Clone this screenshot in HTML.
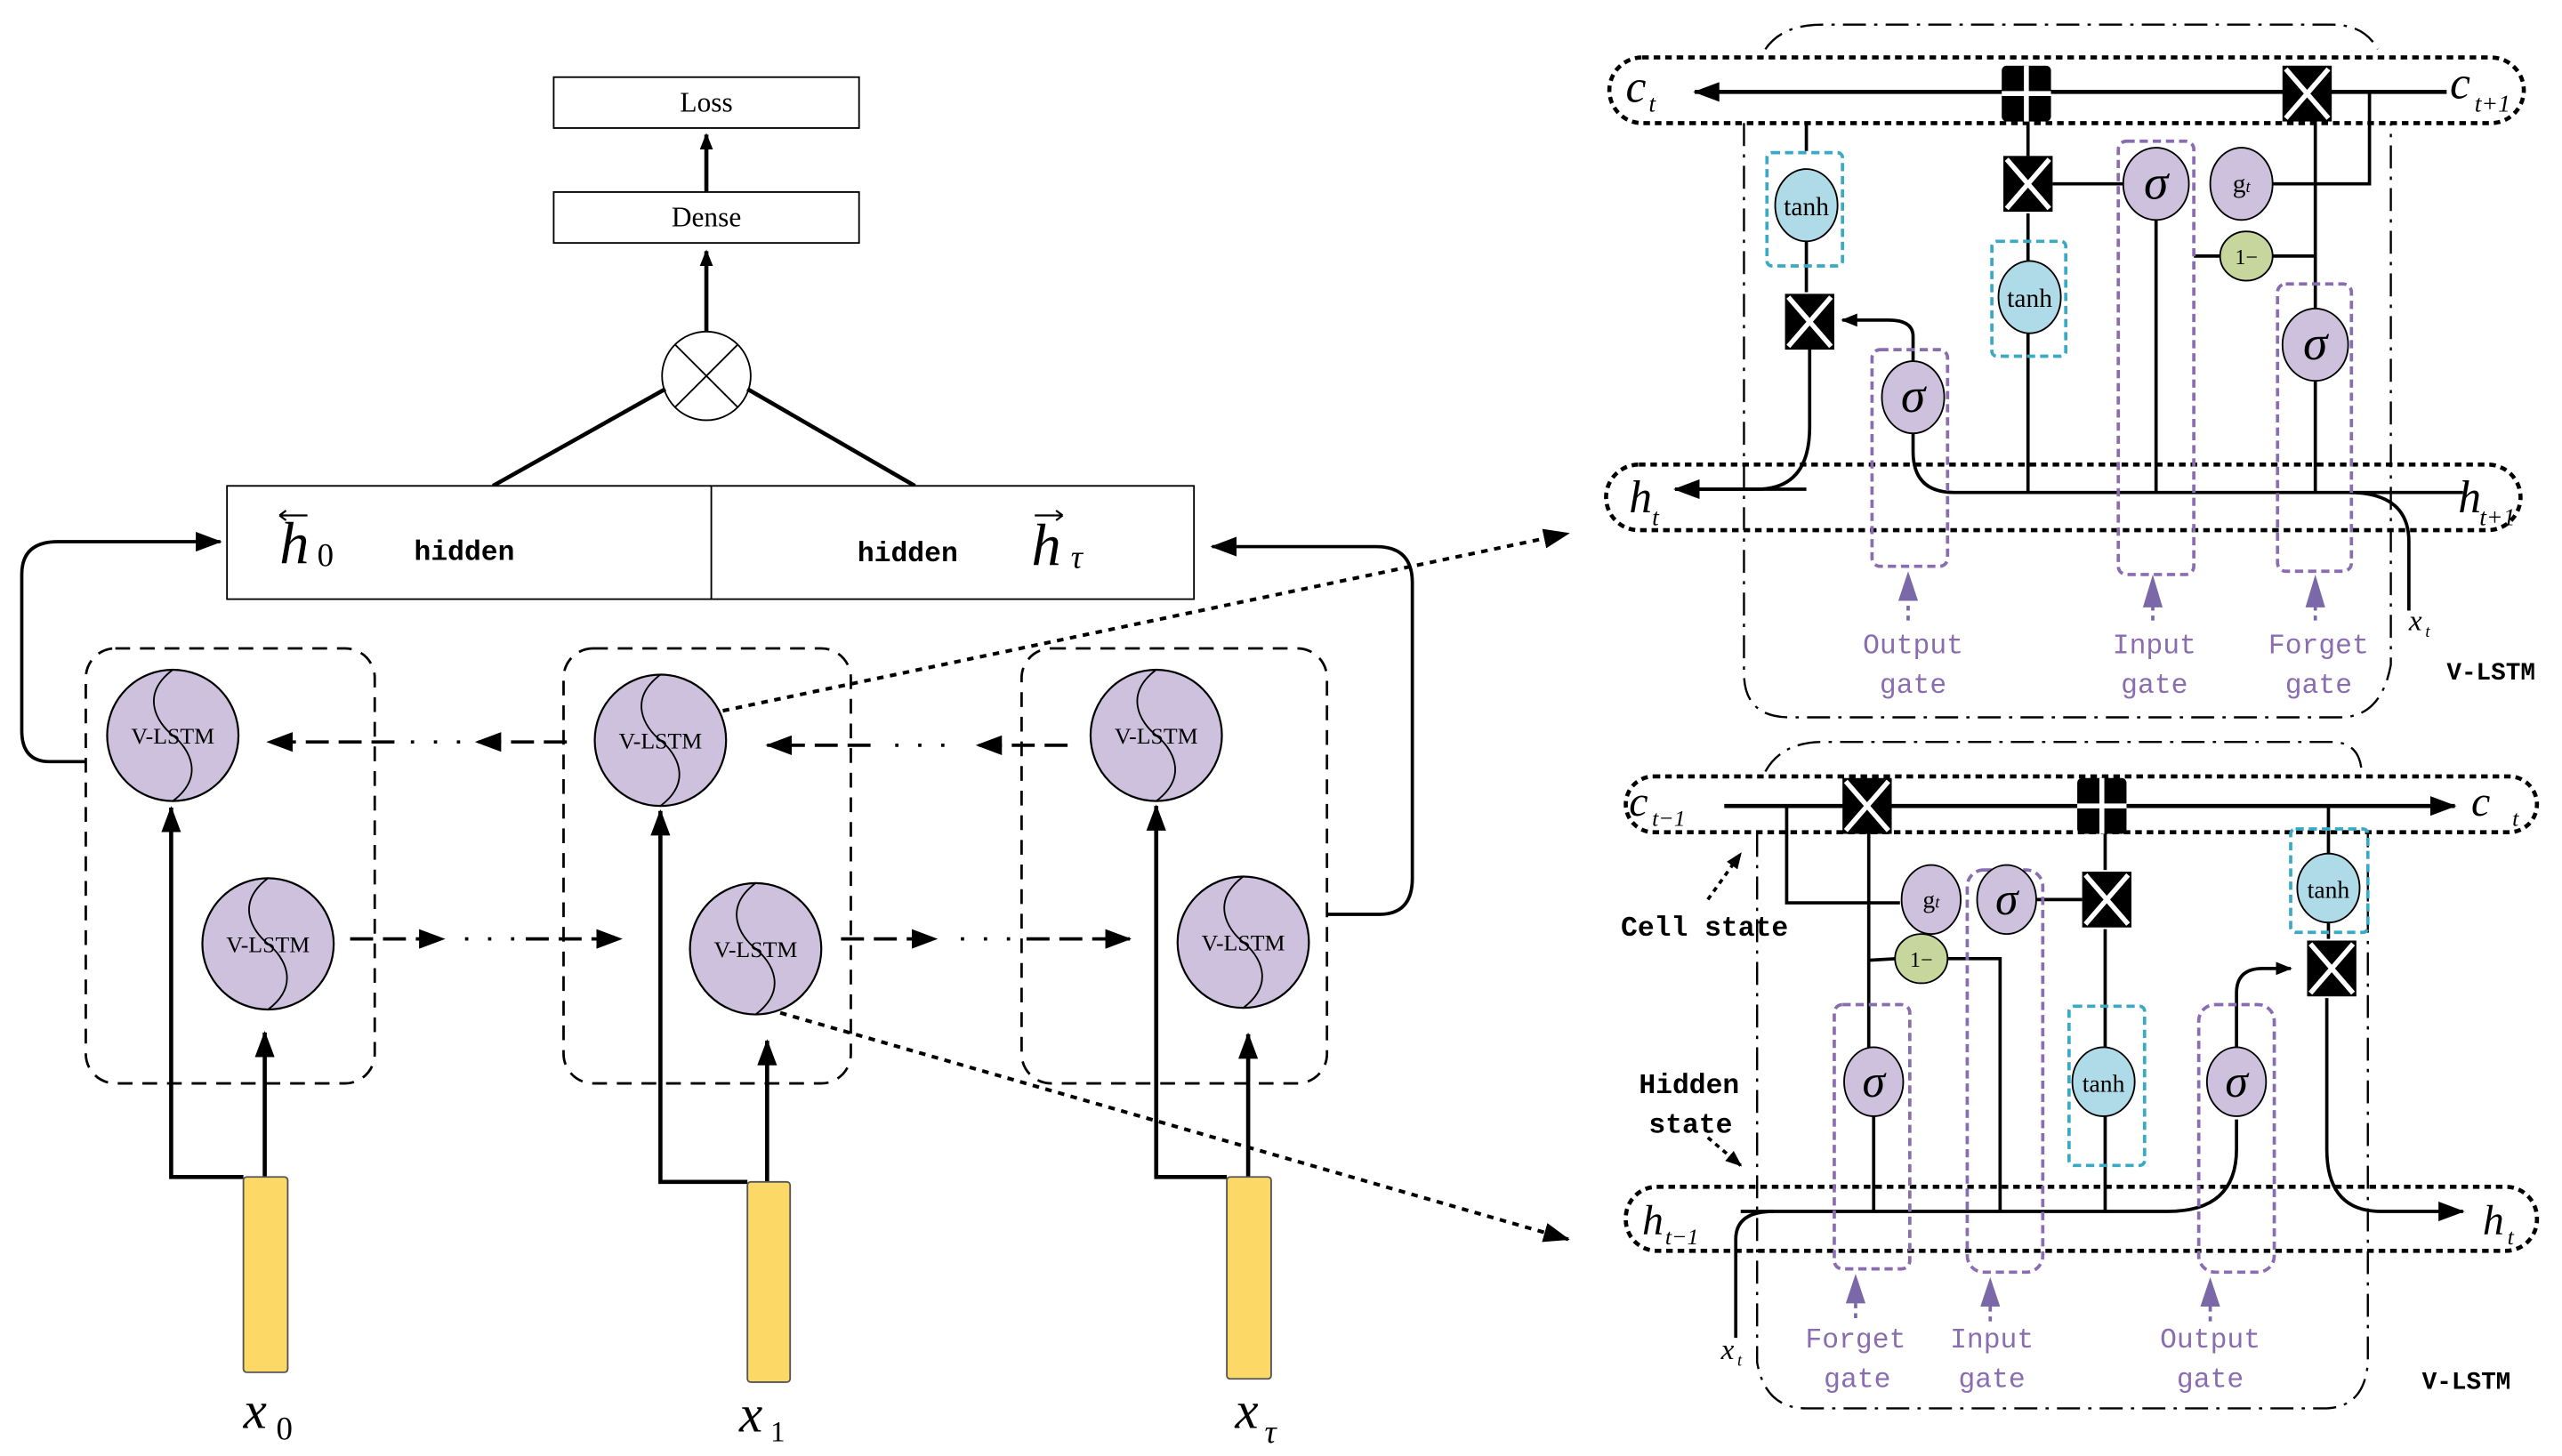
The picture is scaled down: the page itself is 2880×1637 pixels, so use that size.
<!DOCTYPE html>
<html><head><meta charset="utf-8"><style>html,body{margin:0;padding:0;background:#fff}svg{display:block}</style></head><body>
<svg width="2880" height="1637" viewBox="0 0 1560 887" xmlns="http://www.w3.org/2000/svg" font-family="Liberation Serif, serif">
<defs>
<marker id="a" markerWidth="10" markerHeight="8" refX="9" refY="4" orient="auto" markerUnits="userSpaceOnUse"><path d="M0,0 L10,4 L0,8z" fill="#000"/></marker>
<marker id="A" markerWidth="16" markerHeight="12" refX="15" refY="6" orient="auto" markerUnits="userSpaceOnUse"><path d="M0,0 L16,6 L0,12z" fill="#000"/></marker>
<g id="vl"><circle r="40" fill="#cdc1dd" stroke="#000" stroke-width="1.2"/><path d="M0,-40 C-20,-25 -10,-8 0,0 C10,8 20,25 0,40" fill="none" stroke="#000" stroke-width="1"/><text y="5" text-anchor="middle" font-size="14">V-LSTM</text></g>
<g id="bx"><rect x="-15" y="-17" width="30" height="34" fill="#000"/><path d="M-13,-15 L13,15 M13,-15 L-13,15" stroke="#fff" stroke-width="3"/></g>
<g id="pl"><rect x="-15" y="-17" width="30" height="34" rx="3" fill="#000"/><path d="M0,-17 V17 M-15,0 H15" stroke="#fff" stroke-width="3"/></g>
</defs>
<g stroke="#000" fill="none">
<rect x="337" y="47" width="186" height="31" fill="#fff"/>
<rect x="337" y="117" width="186" height="31" fill="#fff"/>
<line x1="430" y1="117" x2="430" y2="82" stroke-width="2.5" marker-end="url(#a)"/>
<line x1="430" y1="202" x2="430" y2="153" stroke-width="2.5" marker-end="url(#a)"/>
<circle cx="430" cy="229" r="27" fill="#fff"/>
<path d="M411,210 L449,248 M449,210 L411,248"/>
<line x1="405" y1="237" x2="300" y2="296" stroke-width="2.5"/>
<line x1="455" y1="237" x2="557" y2="296" stroke-width="2.5"/>
<rect x="138" y="296" width="589" height="69" fill="#fff"/>
<line x1="433" y1="296" x2="433" y2="365"/>
<rect x="52" y="395" width="176" height="265" rx="18" stroke-dasharray="9,6" stroke-width="1.5"/>
<rect x="343" y="395" width="175" height="265" rx="18" stroke-dasharray="9,6" stroke-width="1.5"/>
<rect x="622" y="395" width="186" height="265" rx="18" stroke-dasharray="9,6" stroke-width="1.5"/>
<path d="M52,464 H30 Q13,464 13,445 V350 Q13,330 35,330 H134" stroke-width="2" marker-end="url(#A)"/>
<path d="M808,557 H840 Q860,557 860,535 V355 Q860,333 838,333 H738" stroke-width="2" marker-end="url(#A)"/>
<path d="M148,717 H104 V492" stroke-width="2.5" marker-end="url(#A)"/>
<line x1="161" y1="717" x2="161" y2="629" stroke-width="2.5" marker-end="url(#A)"/>
<path d="M455,720 H402 V494" stroke-width="2.5" marker-end="url(#A)"/>
<line x1="467" y1="720" x2="467" y2="634" stroke-width="2.5" marker-end="url(#A)"/>
<path d="M747,717 H704 V491" stroke-width="2.5" marker-end="url(#A)"/>
<line x1="760" y1="717" x2="760" y2="630" stroke-width="2.5" marker-end="url(#A)"/>
<g stroke-width="2" stroke-dasharray="14,6">
<line x1="240" y1="452" x2="163" y2="452" marker-end="url(#A)"/>
<line x1="345" y1="452" x2="290" y2="452" marker-end="url(#A)"/>
<line x1="530" y1="454" x2="467" y2="454" marker-end="url(#A)"/>
<line x1="650" y1="454" x2="595" y2="454" marker-end="url(#A)"/>
<line x1="213" y1="572" x2="270" y2="572" marker-end="url(#A)"/>
<line x1="320" y1="572" x2="378" y2="572" marker-end="url(#A)"/>
<line x1="512" y1="572" x2="570" y2="572" marker-end="url(#A)"/>
<line x1="625" y1="572" x2="688" y2="572" marker-end="url(#A)"/>
</g>
<g stroke-width="2" stroke-dasharray="2,12"><line x1="250" y1="452" x2="280" y2="452"/><line x1="545" y1="454" x2="575" y2="454"/><line x1="283" y1="572" x2="313" y2="572"/><line x1="585" y1="572" x2="615" y2="572"/></g>
<line x1="440" y1="433" x2="955" y2="325" stroke-width="2.2" stroke-dasharray="4,4" marker-end="url(#A)"/>
<line x1="475" y1="617" x2="955" y2="755" stroke-width="2.2" stroke-dasharray="4,4" marker-end="url(#A)"/>
</g>
<use href="#vl" x="105" y="448"/><use href="#vl" x="163" y="575"/><use href="#vl" x="402" y="451"/><use href="#vl" x="460" y="578"/><use href="#vl" x="704" y="448"/><use href="#vl" x="757" y="574"/>
<g fill="#fcd967" stroke="#555"><rect x="148" y="717" width="27" height="119" rx="2"/><rect x="455" y="720" width="26" height="122" rx="2"/><rect x="747" y="717" width="27" height="123" rx="2"/></g>
<g font-size="17" text-anchor="middle"><text x="430" y="68">Loss</text><text x="430" y="138">Dense</text></g>
<g font-family="Liberation Mono, monospace" font-size="17" font-weight="bold"><text x="252" y="341">hidden</text><text x="522" y="342">hidden</text></g>
<g font-style="italic" font-size="36"><text x="170" y="343">h</text><text x="628" y="344">h</text><text x="148" y="870" font-size="32">x</text><text x="450" y="872" font-size="32">x</text><text x="752" y="870" font-size="32">x</text></g>
<g font-size="20"><text x="193" y="345">0</text><text x="168" y="877">0</text><text x="469" y="878" font-size="18">1</text><text x="652" y="346" font-style="italic">τ</text><text x="770" y="879" font-style="italic">τ</text></g>
<g stroke="#000" stroke-width="1.2"><path d="M170,314 H187 M170,314 l4,-3 M170,314 l4,3 M630,314 H647 M647,314 l-4,-3 M647,314 l-4,3"/></g>

<!-- top right panel -->
<g fill="none" stroke="#000">
<path d="M1075,30 Q1085,15 1110,15 H1420 Q1440,15 1448,30 M1062,75 V410 Q1062,437 1090,437 H1425 Q1450,437 1456,405 V75" stroke-width="1.3" stroke-dasharray="14,5,2,5"/>
<rect x="980" y="35" width="557" height="40" rx="20" stroke-width="2.5" stroke-dasharray="4,3"/>
<rect x="978" y="283" width="557" height="40" rx="20" stroke-width="2.5" stroke-dasharray="4,3"/>
<line x1="1490" y1="56" x2="1032" y2="56" stroke-width="2.5" marker-end="url(#A)"/>
<g stroke-width="2">
<path d="M1443,56 V112 H1380 M1410,56 V190 M1336,156 H1410 M1313,130 V300 M1235,130 V160 M1235,202 V300 M1100,75 V92 M1100,147 V178 M1102,212 V260 Q1102,298 1070,298 H1020"/>
<path d="M1165,262 V275 Q1165,300 1190,300 H1500 M1410,230 V300 M1430,300 Q1467,300 1467,330 V372 M1235,74 V95 M1250,112 H1293"/>
<path d="M1165,222 V205 Q1165,195 1150,195 H1122" marker-end="url(#a)"/>
</g>
<line x1="1100" y1="298" x2="1020" y2="298" stroke-width="2" marker-end="url(#A)"/>
</g>
<g fill="none" stroke-width="2" stroke-dasharray="5,3">
<rect x="1076" y="93" width="46" height="69" rx="3" stroke="#3aa9c4"/>
<rect x="1213" y="147" width="45" height="70" rx="3" stroke="#3aa9c4"/>
<g stroke="#8a6db0"><rect x="1140" y="213" width="46" height="132" rx="5"/><rect x="1290" y="86" width="46" height="264" rx="5"/><rect x="1387" y="173" width="45" height="175" rx="5"/></g>
</g>
<use href="#pl" x="1234" y="57"/><use href="#bx" x="1405" y="57"/><use href="#bx" x="1235" y="112"/><use href="#bx" x="1102" y="196"/>
<g stroke="#000"><ellipse cx="1100" cy="125" rx="19" ry="22" fill="#aedbe7"/><ellipse cx="1236" cy="181" rx="19" ry="22" fill="#aedbe7"/><ellipse cx="1165" cy="242" rx="19" ry="22" fill="#cdc1dd"/><ellipse cx="1313" cy="112" rx="20" ry="22" fill="#cdc1dd"/><ellipse cx="1365" cy="112" rx="19" ry="22" fill="#cdc1dd"/><ellipse cx="1368" cy="156" rx="16" ry="15" fill="#c6d69c"/><ellipse cx="1410" cy="210" rx="20" ry="22" fill="#cdc1dd"/></g>
<g font-size="16" text-anchor="middle"><text x="1100" y="131">tanh</text><text x="1236" y="187">tanh</text><text x="1365" y="117">g<tspan font-size="10" font-style="italic">t</tspan></text><text x="1368" y="161" font-size="13">1−</text></g>
<g font-size="30" text-anchor="middle" font-style="italic"><text x="1165" y="251">σ</text><text x="1313" y="121">σ</text><text x="1410" y="219">σ</text></g>
<g font-style="italic" font-size="28"><text x="990" y="62">c</text><text x="992" y="312">h</text><text x="1492" y="60">c</text><text x="1497" y="312">h</text><text x="1467" y="384" font-size="18">x</text></g>
<g font-style="italic" font-size="15"><text x="1004" y="68">t</text><text x="1006" y="320">t</text><text x="1507" y="68">t+1</text><text x="1510" y="320">t+1</text><text x="1477" y="388" font-size="10">t</text></g>
<g stroke-dasharray="3,3" stroke="#7b68a8" stroke-width="2"><line x1="1162" y1="378" x2="1162" y2="362"/><line x1="1311" y1="378" x2="1311" y2="366"/><line x1="1410" y1="378" x2="1410" y2="366"/></g>
<g fill="#7b68a8"><path d="M1156,366 L1162,348 L1168,366z"/><path d="M1305,370 L1311,350 L1317,370z"/><path d="M1404,370 L1410,350 L1416,370z"/></g>
<g font-family="Liberation Mono, monospace" font-size="17" fill="#8a6db0" text-anchor="middle"><text x="1165" y="398">Output</text><text x="1165" y="422">gate</text><text x="1312" y="398">Input</text><text x="1312" y="422">gate</text><text x="1412" y="398">Forget</text><text x="1412" y="422">gate</text></g>
<text x="1490" y="414" font-family="Liberation Mono, monospace" font-size="15" font-weight="bold">V-LSTM</text>

<!-- bottom right panel -->
<g fill="none" stroke="#000">
<path d="M1075,470 Q1085,452 1110,452 H1420 Q1436,452 1438,468 M1070,508 V830 Q1075,858 1100,858 H1415 Q1440,858 1442,830 V508" stroke-width="1.3" stroke-dasharray="14,5,2,5"/>
<rect x="990" y="473" width="555" height="34" rx="17" stroke-width="2.5" stroke-dasharray="4,3"/>
<rect x="990" y="723" width="555" height="39" rx="19" stroke-width="2.5" stroke-dasharray="4,3"/>
<line x1="1050" y1="491" x2="1495" y2="491" stroke-width="2.5" marker-end="url(#A)"/>
<g stroke-width="2">
<path d="M1088,491 V550 H1157 M1138,508 V640 M1138,585 L1155,584 M1185,584 H1218 V738 M1240,548 H1268 M1282,508 V530 M1282,566 V640 M1418,491 V520 M1418,562 V572 M1141,680 V738 M1282,680 V738 M1060,738 H1320 Q1362,738 1362,700 V682 M1060,738 H1080"/>
<path d="M1057,815 V755 Q1057,738 1080,738"/>
<path d="M1362,640 V605 Q1362,590 1378,590 H1395" marker-end="url(#a)"/>
<path d="M1417,608 V700 Q1417,738 1450,738 H1500" marker-end="url(#A)"/>
</g>
<line x1="1040" y1="548" x2="1060" y2="520" stroke-width="2" stroke-dasharray="3,3" marker-end="url(#a)"/>
<line x1="1040" y1="693" x2="1060" y2="710" stroke-width="2" stroke-dasharray="3,3" marker-end="url(#a)"/>
</g>
<g fill="none" stroke-width="2" stroke-dasharray="5,3">
<rect x="1395" y="505" width="47" height="63" rx="3" stroke="#3aa9c4"/>
<rect x="1260" y="613" width="46" height="97" rx="3" stroke="#3aa9c4"/>
<g stroke="#8a6db0"><rect x="1117" y="612" width="46" height="161" rx="5"/><rect x="1198" y="530" width="46" height="245" rx="10"/><rect x="1339" y="612" width="46" height="163" rx="10"/></g>
</g>
<use href="#bx" x="1137" y="491"/><use href="#pl" x="1280" y="491"/><use href="#bx" x="1283" y="548"/><use href="#bx" x="1420" y="590"/>
<g stroke="#000"><ellipse cx="1418" cy="541" rx="19" ry="21" fill="#aedbe7"/><ellipse cx="1281" cy="659" rx="19" ry="21" fill="#aedbe7"/><ellipse cx="1176" cy="548" rx="18" ry="21" fill="#cdc1dd"/><ellipse cx="1222" cy="548" rx="18" ry="21" fill="#cdc1dd"/><ellipse cx="1170" cy="584" rx="16" ry="15" fill="#c6d69c"/><ellipse cx="1141" cy="659" rx="18" ry="21" fill="#cdc1dd"/><ellipse cx="1362" cy="659" rx="18" ry="21" fill="#cdc1dd"/></g>
<g font-size="15" text-anchor="middle"><text x="1418" y="547">tanh</text><text x="1281" y="665">tanh</text><text x="1176" y="553">g<tspan font-size="10" font-style="italic">t</tspan></text><text x="1170" y="589" font-size="13">1−</text></g>
<g font-size="28" text-anchor="middle" font-style="italic"><text x="1222" y="557">σ</text><text x="1141" y="668">σ</text><text x="1362" y="668">σ</text></g>
<g font-style="italic" font-size="26"><text x="992" y="497">c</text><text x="1505" y="497">c</text><text x="1000" y="752">h</text><text x="1512" y="752">h</text><text x="1048" y="828" font-size="18">x</text></g>
<g font-style="italic" font-size="14"><text x="1006" y="503">t−1</text><text x="1530" y="503">t</text><text x="1014" y="758">t−1</text><text x="1527" y="758">t</text><text x="1058" y="832" font-size="10">t</text></g>
<g fill="#7b68a8"><path d="M1124,794 L1130,776 L1136,794z"/><path d="M1206,796 L1212,778 L1218,796z"/><path d="M1340,796 L1346,778 L1352,796z"/></g>
<g stroke="#7b68a8" stroke-width="2" stroke-dasharray="3,3"><line x1="1130" y1="794" x2="1130" y2="805"/><line x1="1212" y1="796" x2="1212" y2="805"/><line x1="1346" y1="796" x2="1346" y2="805"/></g>
<g font-family="Liberation Mono, monospace" font-size="17" fill="#8a6db0" text-anchor="middle"><text x="1130" y="821">Forget</text><text x="1131" y="845">gate</text><text x="1213" y="821">Input</text><text x="1213" y="845">gate</text><text x="1346" y="821">Output</text><text x="1346" y="845">gate</text></g>
<g font-family="Liberation Mono, monospace" font-size="17" font-weight="bold"><text x="987" y="570">Cell state</text><text x="998" y="666">Hidden</text><text x="1004" y="690">state</text><text x="1475" y="846" font-size="15">V-LSTM</text></g>
</svg>
</body></html>
